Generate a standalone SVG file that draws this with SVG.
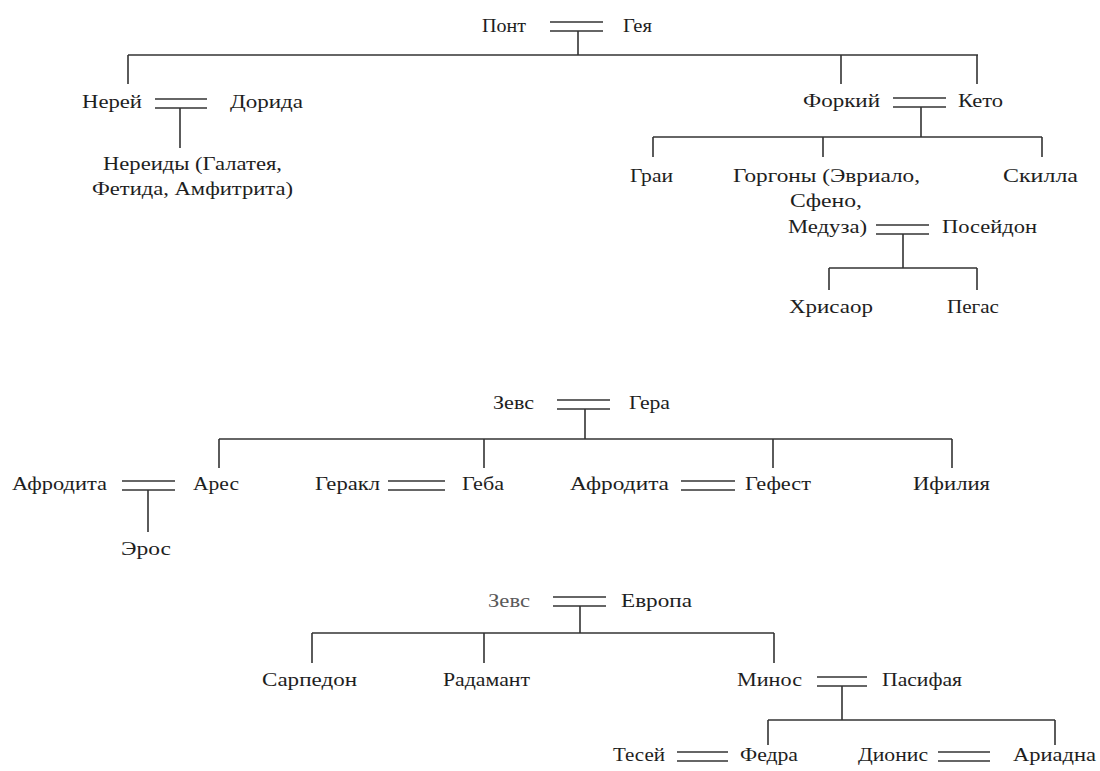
<svg xmlns="http://www.w3.org/2000/svg" width="1100" height="771" viewBox="0 0 1100 771" font-family="Liberation Serif, Times New Roman, serif">
<style>
text{font-size:19px;fill:#1e1e1e}
.c line{stroke:#333;stroke-width:1.6}
.light{fill:#5a5a5a}
</style>
<rect width="1100" height="771" fill="#fff"/>
<g class="c" id="connectors">
<line x1="550" y1="22" x2="603" y2="22"/><line x1="550" y1="31" x2="603" y2="31"/>
<line x1="578" y1="31" x2="578" y2="55"/>
<line x1="128" y1="55" x2="978" y2="55"/>
<line x1="128" y1="55" x2="128" y2="84"/>
<line x1="841" y1="55" x2="841" y2="84"/>
<line x1="977" y1="55" x2="977" y2="84"/>
<line x1="155" y1="99" x2="207" y2="99"/><line x1="155" y1="108" x2="207" y2="108"/>
<line x1="180" y1="108" x2="180" y2="148"/>
<line x1="893" y1="98" x2="946" y2="98"/><line x1="893" y1="107" x2="946" y2="107"/>
<line x1="921" y1="107" x2="921" y2="137"/>
<line x1="653" y1="137" x2="1042" y2="137"/>
<line x1="653" y1="137" x2="653" y2="157"/>
<line x1="823" y1="137" x2="823" y2="157"/>
<line x1="1042" y1="137" x2="1042" y2="157"/>
<line x1="876" y1="225" x2="929" y2="225"/><line x1="876" y1="234" x2="929" y2="234"/>
<line x1="903" y1="234" x2="903" y2="268"/>
<line x1="829" y1="268" x2="977" y2="268"/>
<line x1="829" y1="268" x2="829" y2="290"/>
<line x1="977" y1="268" x2="977" y2="290"/>
<line x1="557" y1="400" x2="610" y2="400"/><line x1="557" y1="409" x2="610" y2="409"/>
<line x1="585" y1="409" x2="585" y2="439"/>
<line x1="219" y1="439" x2="952" y2="439"/>
<line x1="219" y1="439" x2="219" y2="468"/>
<line x1="484" y1="439" x2="484" y2="468"/>
<line x1="773" y1="439" x2="773" y2="468"/>
<line x1="952" y1="439" x2="952" y2="468"/>
<line x1="122" y1="481" x2="175" y2="481"/><line x1="122" y1="490" x2="175" y2="490"/>
<line x1="148" y1="490" x2="148" y2="532"/>
<line x1="388" y1="481" x2="445" y2="481"/><line x1="388" y1="490" x2="445" y2="490"/>
<line x1="681" y1="481" x2="735" y2="481"/><line x1="681" y1="490" x2="735" y2="490"/>
<line x1="553" y1="597" x2="606" y2="597"/><line x1="553" y1="606" x2="606" y2="606"/>
<line x1="580" y1="606" x2="580" y2="633"/>
<line x1="312" y1="633" x2="774" y2="633"/>
<line x1="312" y1="633" x2="312" y2="663"/>
<line x1="484" y1="633" x2="484" y2="663"/>
<line x1="774" y1="633" x2="774" y2="663"/>
<line x1="817" y1="677" x2="867" y2="677"/><line x1="817" y1="686" x2="867" y2="686"/>
<line x1="842" y1="686" x2="842" y2="720"/>
<line x1="768" y1="720" x2="1055" y2="720"/>
<line x1="768" y1="720" x2="768" y2="745"/>
<line x1="1055" y1="720" x2="1055" y2="745"/>
<line x1="677" y1="752" x2="728" y2="752"/><line x1="677" y1="761" x2="728" y2="761"/>
<line x1="938" y1="752" x2="990" y2="752"/><line x1="938" y1="761" x2="990" y2="761"/>
</g>
<g id="pont"><text x="482" y="32" textLength="44" lengthAdjust="spacingAndGlyphs">Понт</text></g>
<g id="geya"><text x="623" y="32" textLength="29" lengthAdjust="spacingAndGlyphs">Гея</text></g>
<g id="nerei"><text x="82" y="108" textLength="60" lengthAdjust="spacingAndGlyphs">Нерей</text></g>
<g id="dorida"><text x="230" y="108" textLength="73" lengthAdjust="spacingAndGlyphs">Дорида</text></g>
<g id="nereidy"><text x="103" y="170" textLength="179" lengthAdjust="spacingAndGlyphs">Нереиды (Галатея,</text><text x="92" y="195" textLength="201" lengthAdjust="spacingAndGlyphs">Фетида, Амфитрита)</text></g>
<g id="forkiy"><text x="803" y="107" textLength="77" lengthAdjust="spacingAndGlyphs">Форкий</text></g>
<g id="keto"><text x="958" y="107" textLength="45" lengthAdjust="spacingAndGlyphs">Кето</text></g>
<g id="grai"><text x="630" y="182" textLength="43" lengthAdjust="spacingAndGlyphs">Граи</text></g>
<g id="gorgony"><text x="733" y="182" textLength="187" lengthAdjust="spacingAndGlyphs">Горгоны (Эвриало,</text><text x="790" y="207" textLength="72" lengthAdjust="spacingAndGlyphs">Сфено,</text><text x="788" y="233" textLength="79" lengthAdjust="spacingAndGlyphs">Медуза)</text></g>
<g id="poseidon"><text x="942" y="233" textLength="95" lengthAdjust="spacingAndGlyphs">Посейдон</text></g>
<g id="skilla"><text x="1003" y="182" textLength="75" lengthAdjust="spacingAndGlyphs">Скилла</text></g>
<g id="hrisaor"><text x="789" y="313" textLength="84" lengthAdjust="spacingAndGlyphs">Хрисаор</text></g>
<g id="pegas"><text x="947" y="313" textLength="52" lengthAdjust="spacingAndGlyphs">Пегас</text></g>
<g id="zevs1"><text x="493" y="409" textLength="41" lengthAdjust="spacingAndGlyphs">Зевс</text></g>
<g id="gera"><text x="629" y="409" textLength="41" lengthAdjust="spacingAndGlyphs">Гера</text></g>
<g id="afrodita1"><text x="12" y="490" textLength="95" lengthAdjust="spacingAndGlyphs">Афродита</text></g>
<g id="ares"><text x="193" y="490" textLength="46" lengthAdjust="spacingAndGlyphs">Арес</text></g>
<g id="eros"><text x="121" y="555" textLength="50" lengthAdjust="spacingAndGlyphs">Эрос</text></g>
<g id="gerakl"><text x="315" y="490" textLength="65" lengthAdjust="spacingAndGlyphs">Геракл</text></g>
<g id="geba"><text x="462" y="490" textLength="42" lengthAdjust="spacingAndGlyphs">Геба</text></g>
<g id="afrodita2"><text x="570" y="490" textLength="99" lengthAdjust="spacingAndGlyphs">Афродита</text></g>
<g id="gefest"><text x="745" y="490" textLength="66" lengthAdjust="spacingAndGlyphs">Гефест</text></g>
<g id="ifiliya"><text x="913" y="490" textLength="77" lengthAdjust="spacingAndGlyphs">Ифилия</text></g>
<g id="zevs2"><text class="light" x="488" y="607" textLength="42" lengthAdjust="spacingAndGlyphs">Зевс</text></g>
<g id="evropa"><text x="621" y="607" textLength="71" lengthAdjust="spacingAndGlyphs">Европа</text></g>
<g id="sarpedon"><text x="262" y="686" textLength="95" lengthAdjust="spacingAndGlyphs">Сарпедон</text></g>
<g id="radamant"><text x="443" y="686" textLength="87" lengthAdjust="spacingAndGlyphs">Радамант</text></g>
<g id="minos"><text x="737" y="686" textLength="65" lengthAdjust="spacingAndGlyphs">Минос</text></g>
<g id="pasifaya"><text x="882" y="686" textLength="80" lengthAdjust="spacingAndGlyphs">Пасифая</text></g>
<g id="tesei"><text x="613" y="761" textLength="52" lengthAdjust="spacingAndGlyphs">Тесей</text></g>
<g id="fedra"><text x="740" y="761" textLength="58" lengthAdjust="spacingAndGlyphs">Федра</text></g>
<g id="dionis"><text x="858" y="761" textLength="70" lengthAdjust="spacingAndGlyphs">Дионис</text></g>
<g id="ariadna"><text x="1013" y="761" textLength="83" lengthAdjust="spacingAndGlyphs">Ариадна</text></g>
</svg>
